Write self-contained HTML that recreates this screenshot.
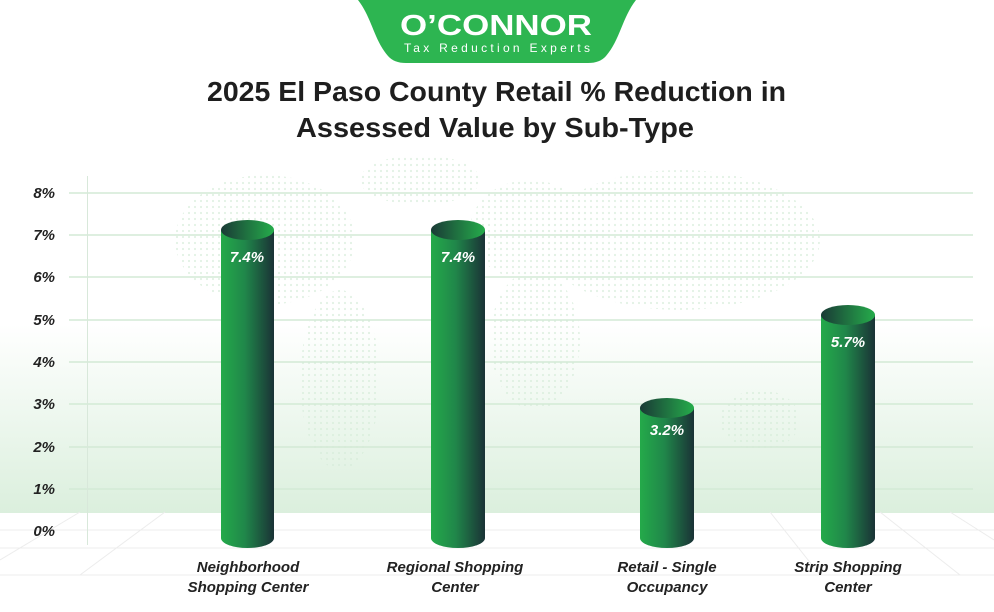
<!DOCTYPE html>
<html><head><meta charset="utf-8"><style>
html,body{margin:0;padding:0;background:#fff;}
svg{display:block;font-family:"Liberation Sans",sans-serif;}
</style></head><body>
<svg width="994" height="612" viewBox="0 0 994 612" xmlns="http://www.w3.org/2000/svg">
<defs>
<linearGradient id="bg" x1="0" y1="0" x2="0" y2="1">
<stop offset="0" stop-color="#ffffff"/><stop offset="0.45" stop-color="#ffffff"/><stop offset="1" stop-color="#dbefdd"/>
</linearGradient>
<linearGradient id="cyl" x1="0" y1="0" x2="1" y2="0">
<stop offset="0" stop-color="#24aa4a"/><stop offset="0.45" stop-color="#20874a"/><stop offset="1" stop-color="#1a3236"/>
</linearGradient>
<linearGradient id="top" x1="0" y1="0" x2="1" y2="0">
<stop offset="0" stop-color="#1a3a36"/><stop offset="1" stop-color="#25ac4b"/>
</linearGradient>
<pattern id="dots" width="6" height="6" patternUnits="userSpaceOnUse">
<circle cx="3" cy="3" r="1.1" fill="#d6ecd9"/>
</pattern>
</defs>
<rect x="0" y="170" width="994" height="343" fill="url(#bg)"/>
<g stroke="#ececec" stroke-width="1">
<line x1="0" y1="530" x2="994" y2="530"/><line x1="0" y1="548" x2="994" y2="548"/><line x1="0" y1="575" x2="994" y2="575"/>
<line x1="80" y1="512" x2="0" y2="560"/><line x1="165" y1="512" x2="80" y2="575"/>
<line x1="770" y1="512" x2="820" y2="575"/><line x1="880" y1="512" x2="960" y2="575"/><line x1="950" y1="512" x2="994" y2="540"/>
</g>
<g opacity="0.7">
<ellipse cx="265" cy="240" rx="90" ry="65" fill="url(#dots)"/>
<ellipse cx="340" cy="380" rx="40" ry="90" fill="url(#dots)"/>
<ellipse cx="420" cy="180" rx="60" ry="25" fill="url(#dots)"/>
<ellipse cx="530" cy="230" rx="60" ry="50" fill="url(#dots)"/>
<ellipse cx="535" cy="340" rx="45" ry="70" fill="url(#dots)"/>
<ellipse cx="680" cy="240" rx="140" ry="70" fill="url(#dots)"/>
<ellipse cx="760" cy="420" rx="40" ry="30" fill="url(#dots)"/>
</g>
<g stroke="#d3ead6" stroke-width="1.5">
<line x1="69" y1="193" x2="973" y2="193"/><line x1="69" y1="235" x2="973" y2="235"/>
<line x1="69" y1="277" x2="973" y2="277"/><line x1="69" y1="320" x2="973" y2="320"/>
<line x1="69" y1="362" x2="973" y2="362"/><line x1="69" y1="404" x2="973" y2="404"/>
<line x1="69" y1="447" x2="973" y2="447"/><line x1="69" y1="489" x2="973" y2="489"/>
</g>
<line x1="87.5" y1="176" x2="87.5" y2="545" stroke="#d8e8da" stroke-width="1"/>
<g font-size="15" font-weight="bold" font-style="italic" fill="#222" text-anchor="end">
<text x="55" y="198">8%</text><text x="55" y="240">7%</text><text x="55" y="282">6%</text>
<text x="55" y="325">5%</text><text x="55" y="367">4%</text><text x="55" y="409">3%</text>
<text x="55" y="452">2%</text><text x="55" y="494">1%</text><text x="55" y="536">0%</text>
</g>
<g>
<rect x="221" y="230" width="53" height="308" fill="url(#cyl)"/><ellipse cx="247.5" cy="538" rx="26.5" ry="10" fill="url(#cyl)"/><ellipse cx="247.5" cy="230" rx="26.5" ry="10" fill="url(#top)"/>
<rect x="431" y="230" width="54" height="308" fill="url(#cyl)"/><ellipse cx="458" cy="538" rx="27" ry="10" fill="url(#cyl)"/><ellipse cx="458" cy="230" rx="27" ry="10" fill="url(#top)"/>
<rect x="640" y="408" width="54" height="130" fill="url(#cyl)"/><ellipse cx="667" cy="538" rx="27" ry="10" fill="url(#cyl)"/><ellipse cx="667" cy="408" rx="27" ry="10" fill="url(#top)"/>
<rect x="821" y="315" width="54" height="223" fill="url(#cyl)"/><ellipse cx="848" cy="538" rx="27" ry="10" fill="url(#cyl)"/><ellipse cx="848" cy="315" rx="27" ry="10" fill="url(#top)"/>
</g>
<g font-size="15" font-weight="bold" font-style="italic" fill="#fff" text-anchor="middle">
<text x="247" y="262">7.4%</text><text x="458" y="262">7.4%</text><text x="667" y="435">3.2%</text><text x="848" y="347">5.7%</text>
</g>
<g font-size="15" font-weight="bold" font-style="italic" fill="#222" text-anchor="middle">
<text x="248" y="572">Neighborhood</text><text x="248" y="592">Shopping Center</text>
<text x="455" y="572">Regional Shopping</text><text x="455" y="592">Center</text>
<text x="667" y="572">Retail - Single</text><text x="667" y="592">Occupancy</text>
<text x="848" y="572">Strip Shopping</text><text x="848" y="592">Center</text>
</g>
<path d="M358 0 L636 0 C622 18 620 40 606 56 Q600 63 588 63 L406 63 Q394 63 388 56 C374 40 372 18 358 0 Z" fill="#2db551"/>
<text x="400" y="35" font-size="29" font-weight="bold" fill="#fff" textLength="192" lengthAdjust="spacingAndGlyphs">O’CONNOR</text>
<text x="404" y="52" font-size="12" fill="#fff" textLength="186" lengthAdjust="spacing">Tax Reduction Experts</text>
<g font-size="28" font-weight="bold" fill="#1e1e1e">
<text x="207" y="101" textLength="579" lengthAdjust="spacingAndGlyphs">2025 El Paso County Retail % Reduction in</text>
<text x="296" y="137" textLength="398" lengthAdjust="spacingAndGlyphs">Assessed Value by Sub-Type</text>
</g>
</svg>
</body></html>
